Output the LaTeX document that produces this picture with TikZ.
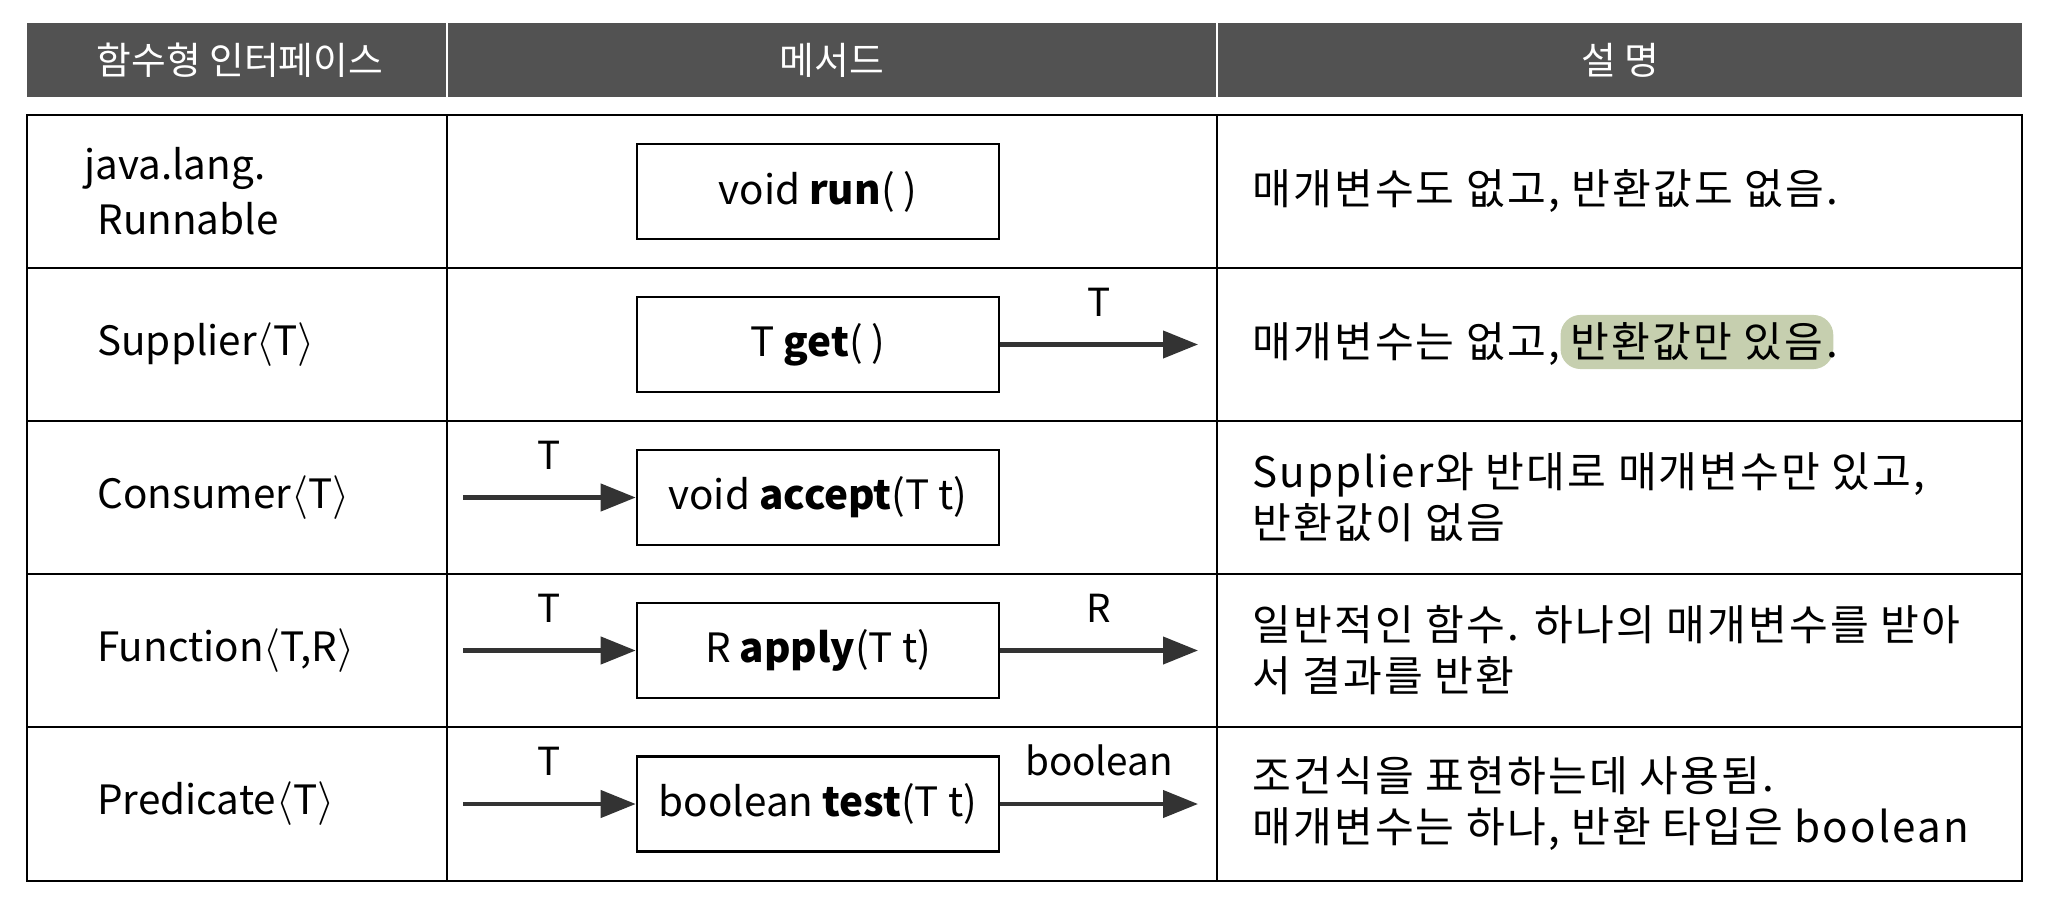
\documentclass[tikz,border=0pt]{standalone}
\usepackage{fontspec}
\setmainfont{Noto Sans CJK KR}
\usepackage{xcolor}
\usepackage{tikz}
\usetikzlibrary{arrows.meta}

\definecolor{headgray}{HTML}{525252}
\definecolor{hlgreen}{HTML}{C6CFAF}
\definecolor{arrowgray}{HTML}{333333}

\begin{document}
\begin{tikzpicture}[x=0.02cm, y=-0.02cm,
        every node/.style={font=\fontsize{23}{31}\selectfont, inner sep=0pt},
        head/.style={text=white, font=\fontsize{21.5}{25}\selectfont},
        mbox/.style={draw, line width=1.5pt, minimum width=7.24cm, minimum height=1.9cm},
        arr/.style={line width=2.4pt, draw=arrowgray, -{Triangle[length=0.7cm, width=0.54cm]}},
        lbl/.style={font=\fontsize{22}{26}\selectfont, above=0.52cm},
        desc/.style={anchor=west, align=left, font=\fontsize{24}{29}\selectfont\addfontfeature{LetterSpace=5}},
        hilite/.style={fill=hlgreen, rounded corners=0.4cm, inner xsep=0.2cm, inner ysep=0.16cm, font=\fontsize{24}{29}\selectfont\addfontfeature{LetterSpace=5}}]
        \useasboundingbox (0,0) rectangle (2048,899);

        % header
        \fill[headgray] (27,23) rectangle (2022,97);
        \draw[white, line width=0.8pt] (447,23) -- (447,97);
        \draw[white, line width=0.8pt] (1217,23) -- (1217,97);
        \node[head] (hA) at (240,60) {함수형 인터페이스};
        \node[head] (hB) at (832,60) {메서드};
        \node[head] (hC) at (1620,60) {설 명};

        % table
        \draw[line width=1.1pt] (27,115) rectangle (2022,881);
        \draw[line width=1.1pt] (27,268) -- (2022,268);
        \draw[line width=1.1pt] (27,421) -- (2022,421);
        \draw[line width=1.1pt] (27,574) -- (2022,574);
        \draw[line width=1.1pt] (27,727) -- (2022,727);
        \draw[line width=1.1pt] (447,115) -- (447,881);
        \draw[line width=1.1pt] (1217,115) -- (1217,881);

        % interfaces
        \node[anchor=west, align=left] (fA) at (84,191) {java.lang.\\\hspace{0.26cm}Runnable};
        \node[anchor=west] (fB) at (97,344.5) {Supplier$\langle$T$\rangle$};
        \node[anchor=west] (fC) at (97,497.5) {Consumer$\langle$T$\rangle$};
        \node[anchor=west] (fD) at (97,650.5) {Function$\langle$T,R$\rangle$};
        \node[anchor=west] (fE) at (97,804) {Predicate$\langle$T$\rangle$};

        % methods
        \node[mbox] (bA) at (818,191.5) {void \textbf{run}( )};
        \node[mbox] (bB) at (818,344.5) {T \textbf{get}( )};
        \node[mbox] (bC) at (818,497.5) {void \textbf{accept}(T t)};
        \node[mbox] (bD) at (818,650.5) {R \textbf{apply}(T t)};
        \node[mbox] (bE) at (818,804) {boolean \textbf{test}(T t)};

        \coordinate (pC) at (463,497.5);
        \coordinate (pD) at (463,650.5);
        \coordinate (pE) at (463,804);
        \coordinate (qB) at (1198,344.5);
        \coordinate (qD) at (1198,650.5);
        \coordinate (qE) at (1198,804);

        \draw[arr] (bB.east) -- (qB) node[lbl, midway] {T};
        \draw[arr] (pC) -- (bC.west) node[lbl, midway] {T};
        \draw[arr] (pD) -- (bD.west) node[lbl, midway] {T};
        \draw[arr] (bD.east) -- (qD) node[lbl, midway] {R};
        \draw[arr] (pE) -- (bE.west) node[lbl, midway] {T};
        \draw[arr] (bE.east) -- (qE) node[lbl, midway] {boolean};

        % descriptions
        \node[desc] (dA) at (1252,191.5) {매개변수도 없고, 반환값도 없음.};
        \node[desc] (dB) at (1252,344.5) {매개변수는 없고,};
        \node[hilite, anchor=base west] (dBh) at (dB.base east) {반환값만 있음};
        \node[desc, anchor=base west] (dBe) at ([xshift=-0.15cm]dBh.base east) {.};
        \node[desc] (dC) at (1252,497.5) {Supplier와 반대로 매개변수만 있고,\\반환값이 없음};
        \node[desc] (dD) at (1252,650.5) {일반적인 함수. 하나의 매개변수를 받아\\서 결과를 반환};
        \node[desc] (dE) at (1252,804) {조건식을 표현하는데 사용됨.\\매개변수는 하나, 반환 타입은 boolean};
\end{tikzpicture}
\end{document}
